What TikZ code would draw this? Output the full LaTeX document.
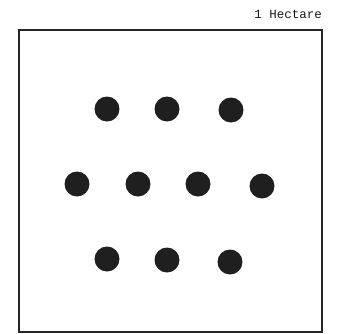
\documentclass[tikz,border=0pt]{standalone}
\usepackage{fontspec}
\setmonofont{Liberation Mono}
\begin{document}
\begin{tikzpicture}[x=1pt,y=-1pt,
  plot/.style={draw=black!85, line width=2pt, rectangle, inner sep=0pt, minimum width=303pt, minimum height=301.5pt},
  tree/.style={circle, fill=black!88, minimum size=25pt, inner sep=0pt},
  lbl/.style={font=\ttfamily\fontsize{12.5}{14}\selectfont, text=black!90, inner sep=0pt, anchor=base east}]
\useasboundingbox (0,0) rectangle (341,333);
\node[plot] (field) at (170,180.75) {};
\node[lbl] (label) at (322,18.5) {1 Hectare};
\node[tree] (a1) at (107,109) {};
\node[tree] (a2) at (167,109) {};
\node[tree] (a3) at (231,110) {};
\node[tree] (b1) at (77,184) {};
\node[tree] (b2) at (138,184) {};
\node[tree] (b3) at (198,184) {};
\node[tree] (b4) at (262,186) {};
\node[tree] (c1) at (107,259) {};
\node[tree] (c2) at (167,260) {};
\node[tree] (c3) at (230,262) {};
\end{tikzpicture}
\end{document}
